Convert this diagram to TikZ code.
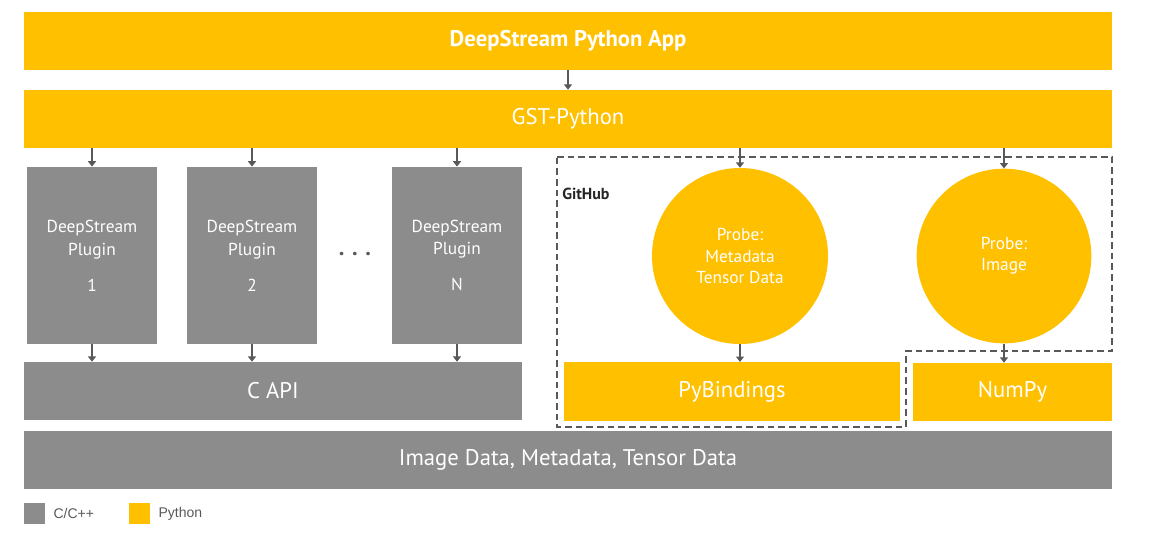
\documentclass[tikz,border=0pt]{standalone}
\usepackage{fontspec}
\setmainfont{PT Sans}
\newfontfamily\legendfont{Liberation Sans}
\usetikzlibrary{positioning, arrows.meta}
\definecolor{pyyellow}{HTML}{FFC000}
\definecolor{cgray}{HTML}{8C8C8C}
\definecolor{arrgray}{HTML}{595959}
\tikzset{
  bar/.style={fill=#1, draw=none, text=white, inner sep=0pt},
  flow/.style={-{Triangle[width=6pt,length=4pt]}, arrgray, line width=1.2pt},
  repo/.style={draw=arrgray, dashed, line width=1.2pt, dash pattern=on 5pt off 3pt}
}
\begin{document}
\begin{tikzpicture}[x=0.75pt,y=-0.75pt]
        \useasboundingbox (0,0) rectangle (1152,544);
        % python layers
        \node[bar=pyyellow, minimum width=816pt, minimum height=43.5pt, font=\fontsize{17}{20}\selectfont\bfseries] (app) at (568,41) {DeepStream Python App};
        \node[bar=pyyellow, minimum width=816pt, minimum height=43.5pt, font=\fontsize{17}{20}\selectfont] (gst) at (568,119) {GST-Python};
        % plugins
        \foreach \name/\cx/\num in {p1/92/1, p2/252/2, pn/457/N} {
                \node[bar=cgray, minimum width=98pt, minimum height=133pt, align=center, font=\fontsize{13}{17}\selectfont] (\name) at (\cx,255.5) {DeepStream\\Plugin\\[10pt]\num};
        }
        \node[font=\fontsize{17}{20}\selectfont\bfseries, text=arrgray] (dots) at (355,254) {. . .};
        \node[bar=cgray, minimum width=373.5pt, minimum height=43.5pt, font=\fontsize{17}{20}\selectfont] (capi) at (273,391) {C API};
        % probes
        \node[circle, fill=pyyellow, minimum size=132pt, inner sep=0pt, align=center, text=white, font=\fontsize{13}{16}\selectfont] (probe1) at (740,256) {Probe:\\Metadata\\Tensor Data};
        \node[circle, fill=pyyellow, minimum size=131pt, inner sep=0pt, align=center, text=white, font=\fontsize{13}{16}\selectfont] (probe2) at (1004,256) {Probe:\\Image};
        \node[bar=pyyellow, minimum width=252pt, minimum height=44pt, font=\fontsize{17}{20}\selectfont] (pyb) at (732,391.5) {PyBindings};
        \node[bar=pyyellow, minimum width=149pt, minimum height=43.5pt, font=\fontsize{17}{20}\selectfont] (numpy) at (1012.5,392) {NumPy};
        \node[bar=cgray, minimum width=816pt, minimum height=43.5pt, font=\fontsize{17}{20}\selectfont] (data) at (568,460) {Image Data, Metadata, Tensor Data};
        % github region
        \draw[repo] (557,157) -- (1112,157) -- (1112,351) -- (906,351) -- (906,427) -- (557,427) -- cycle;
        \node[font=\fontsize{12}{14}\selectfont\bfseries, text=black!85, anchor=west, inner sep=0pt] (github) at (562,194) {GitHub};
        % arrows
        \draw[flow] (app.south -| 568,0) -- (gst.north -| 568,0);
        \foreach \t in {p1, p2, pn} {
                \draw[flow] (gst.south -| \t.north) -- (\t.north);
                \draw[flow] (\t.south) -- (capi.north -| \t.south);
        }
        \draw[flow] (gst.south -| probe1.north) -- (probe1.north);
        \draw[flow] (gst.south -| probe2.north) -- (probe2.north);
        \draw[flow] (probe1.south) -- (pyb.north -| probe1.south);
        \draw[flow] (probe2.south) -- (numpy.north -| probe2.south);
        % legend
        \node[fill=cgray, minimum size=15.75pt, inner sep=0pt] (lgc) at (34.5,513.5) {};
        \node[right=6pt of lgc, font=\legendfont\fontsize{10.5}{12}\selectfont, text=arrgray, inner sep=0pt] (lgctext) {C/C++};
        \node[fill=pyyellow, minimum size=15.75pt, inner sep=0pt] (lgp) at (139.5,513.5) {};
        \node[right=6pt of lgp, font=\legendfont\fontsize{10.5}{12}\selectfont, text=arrgray, inner sep=0pt] (lgptext) {Python};
\end{tikzpicture}
\end{document}
